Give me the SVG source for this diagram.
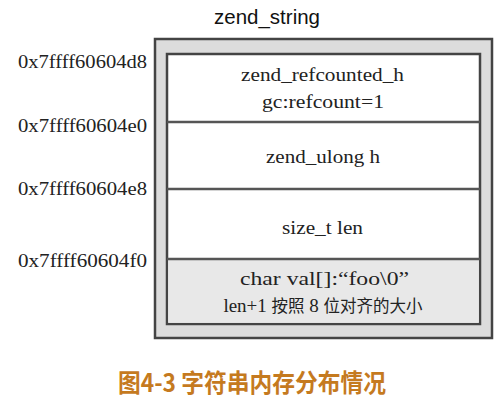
<svg xmlns="http://www.w3.org/2000/svg" width="504" height="411" viewBox="0 0 504 411">
<style>
.addr{font-family:"Liberation Serif",serif;font-size:19px;fill:#222}
.cell{font-family:"Liberation Serif","Noto Sans CJK SC",serif;font-size:19px;fill:#222}
.cjk{font-size:16.5px}
.title{font-family:"Liberation Sans",Arial,sans-serif;font-size:20px;fill:#111}
.cap{font-family:"Noto Sans CJK SC",sans-serif;font-size:25px;font-weight:bold;fill:#c57a1f}
.frame{stroke:#444;stroke-width:2.5}
.div{stroke:#555;stroke-width:2.5}
</style>
<rect width="504" height="411" fill="#fff"/>
<text class="title" x="214" y="24" textLength="106" lengthAdjust="spacingAndGlyphs">zend_string</text>
<g id="frame">
<rect class="frame" x="155" y="39" width="337" height="299" fill="#dcdcdc"/>
<rect class="frame" x="167" y="54" width="313" height="270" fill="#fff"/>
<rect x="168.2" y="260" width="310.6" height="62.8" fill="#e8e8e8"/>
</g>
<g id="connectors">
<line class="div" x1="167" y1="122" x2="480" y2="122"/>
<line class="div" x1="167" y1="189" x2="480" y2="189"/>
<line class="div" x1="167" y1="259" x2="480" y2="259"/>
</g>
<g id="addresses">
<text class="addr" x="18" y="68" textLength="129" lengthAdjust="spacingAndGlyphs">0x7ffff60604d8</text>
<text class="addr" x="18" y="132" textLength="129" lengthAdjust="spacingAndGlyphs">0x7ffff60604e0</text>
<text class="addr" x="18" y="195" textLength="129" lengthAdjust="spacingAndGlyphs">0x7ffff60604e8</text>
<text class="addr" x="18" y="267" textLength="129" lengthAdjust="spacingAndGlyphs">0x7ffff60604f0</text>
</g>
<g id="refcounted">
<text class="cell" x="241" y="81" textLength="163" lengthAdjust="spacingAndGlyphs">zend_refcounted_h</text>
<text class="cell" x="262" y="108" textLength="122" lengthAdjust="spacingAndGlyphs">gc:refcount=1</text>
</g>
<g id="ulong"><text class="cell" x="266" y="163" textLength="114" lengthAdjust="spacingAndGlyphs">zend_ulong h</text></g>
<g id="len"><text class="cell" x="282" y="234" textLength="81" lengthAdjust="spacingAndGlyphs">size_t len</text></g>
<g id="val">
<text class="cell" x="240" y="285" textLength="169" lengthAdjust="spacingAndGlyphs">char val[]:“foo\0”</text>
<text class="cell" x="323" y="312" text-anchor="middle">len+1 <tspan class="cjk">按照</tspan> 8 <tspan class="cjk">位对齐的大小</tspan></text>
</g>
<text class="cap" x="118" y="392" textLength="268" lengthAdjust="spacingAndGlyphs">图4-3 字符串内存分布情况</text>
</svg>
